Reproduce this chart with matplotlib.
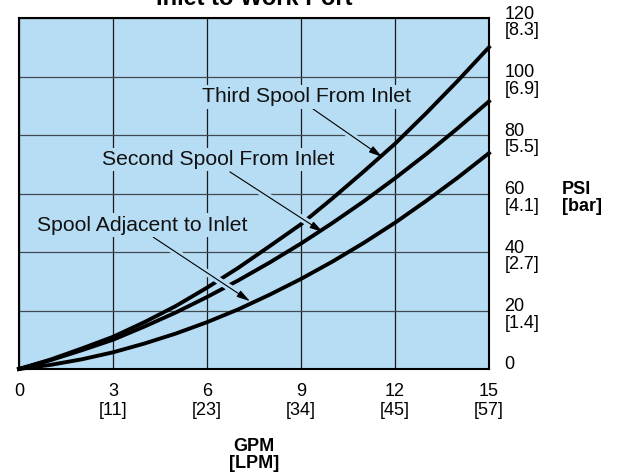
import matplotlib
matplotlib.use('Agg')
import matplotlib.pyplot as plt
import matplotlib.transforms as mtransforms

plt.rcParams['font.family'] = ['Liberation Sans Narrow', 'Liberation Sans', 'DejaVu Sans']

# flow in GPM and pressure drop in PSI
gpm = [0, 1, 2, 3, 4, 5, 6, 7, 8, 9, 10, 11, 12, 13, 14, 15]
third_spool = [0, 3.2, 7.0, 11.0, 16.0, 21.5, 27.8, 34.6, 42.0, 49.5, 58.3, 67.5, 77.0, 87.5, 98.5, 110.0]
second_spool = [0, 3.0, 6.4, 10.0, 14.5, 19.3, 24.6, 30.3, 36.4, 42.9, 49.9, 57.3, 65.2, 73.5, 82.3, 91.5]
adjacent_spool = [0, 1.4, 3.3, 5.7, 8.7, 12.1, 16.0, 20.4, 25.4, 30.8, 36.7, 43.1, 50.0, 57.5, 65.4, 73.8]

gpm_ticks = [0, 3, 6, 9, 12, 15]
gpm_labels = ['0', '3\n[11]', '6\n[23]', '9\n[34]', '12\n[45]', '15\n[57]']
psi_ticks = [0, 20, 40, 60, 80, 100, 120]
psi_labels = ['0', '20\n[1.4]', '40\n[2.7]', '60\n[4.1]', '80\n[5.5]', '100\n[6.9]', '120\n[8.3]']

labels = ['Third Spool From Inlet', 'Second Spool From Inlet', 'Spool Adjacent to Inlet']
label_pos = [(5.84, 93), (2.65, 71.5), (0.57, 49.2)]
arrow_from = [(9.29, 89.6), (6.73, 67.4), (4.28, 45.1)]
arrow_to = [(11.59, 72.5), (9.70, 46.8), (7.37, 23.2)]

bg = '#b7ddf4'

fig = plt.figure(figsize=(6.23, 4.73), dpi=100)
ax = fig.add_axes([19/623, 1 - 369/473, 470/623, 351/473])
ax.set_facecolor(bg)
ax.set_xlim(0, 15)
ax.set_ylim(0, 120)

for s in ax.spines.values():
    s.set_linewidth(1.5)
    s.set_color('black')

ax.set_axisbelow(True)
ax.xaxis.grid(True, color='#1a1a1a', lw=0.9)
ax.yaxis.grid(True, color='#404852', lw=0.9)

for ys in [third_spool, second_spool, adjacent_spool]:
    ax.plot(gpm, ys, color='black', lw=2.8, zorder=3, clip_on=False)

for txt, pos, a0, a1 in zip(labels, label_pos, arrow_from, arrow_to):
    # background-coloured underlay so the arrow cuts the lines it crosses
    ax.annotate('', xy=a1, xytext=a0,
                arrowprops=dict(arrowstyle='-', color=bg, lw=5,
                                shrinkA=0, shrinkB=12), zorder=4)
    ax.annotate('', xy=a1, xytext=a0,
                arrowprops=dict(arrowstyle='-|>,head_length=0.8,head_width=0.22',
                                color='black', lw=0.8, shrinkA=0, shrinkB=0),
                zorder=5)
    ax.text(pos[0], pos[1], txt, fontsize=15.2, color='#111111',
            ha='left', va='center', zorder=6,
            bbox=dict(boxstyle='square,pad=0.1', facecolor=bg, edgecolor='none'))

ax.set_xticks(gpm_ticks)
ax.set_xticklabels(gpm_labels, fontsize=13, linespacing=1.2)
ax.yaxis.tick_right()
ax.set_yticks(psi_ticks)
ax.set_yticklabels(psi_labels, fontsize=13, linespacing=0.95)
ax.tick_params(axis='x', length=0, pad=10)
ax.tick_params(axis='y', length=0, pad=11)

# baseline of a two-line label is its last line; drop them so the value sits on the grid line
shift = mtransforms.ScaledTranslation(0, -17 / 100, fig.dpi_scale_trans)
for val, lab in zip(psi_ticks, ax.get_yticklabels()):
    lab.set_verticalalignment('baseline')
    lab.set_horizontalalignment('left')
    if val != 0:
        lab.set_transform(lab.get_transform() + shift)

trans = mtransforms.blended_transform_factory(ax.transAxes, ax.transData)
ax.text((562 - 19) / 470, 60, 'PSI\n[bar]', transform=trans + shift, fontsize=13,
        fontweight='bold', ha='left', va='baseline', linespacing=0.95)

ax.text(0.5, -(438 - 369) / 351, 'GPM\n[LPM]', transform=ax.transAxes,
        fontsize=13, fontweight='bold', ha='center', va='top', linespacing=1.0)

fig.text(254 / 623, 1 - 5 / 473, 'Inlet to Work Port', fontsize=17,
         fontweight='bold', ha='center', va='baseline')

fig.savefig('out.png', dpi=100)
